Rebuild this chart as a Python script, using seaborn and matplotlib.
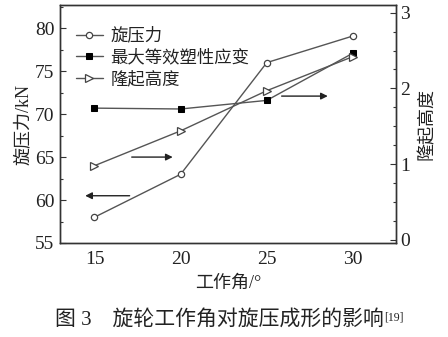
import matplotlib
matplotlib.use("Agg")
import matplotlib.pyplot as plt
import seaborn as sns
import pandas as pd
from matplotlib.ticker import MultipleLocator

sns.set_theme(style="white")
plt.rcParams['font.family'] = ['Liberation Serif', 'Noto Sans CJK SC', 'DejaVu Sans']
plt.rcParams['axes.unicode_minus'] = False

angles = [15, 20, 25, 30]
force = [58.0, 63.0, 76.0, 79.1]
strain = [70.7, 70.6, 71.6, 77.1]
bulge = [0.98, 1.44, 1.97, 2.42]

labels = ["旋压力", "最大等效塑性应变", "隆起高度"]

df = pd.DataFrame({"angle": angles, "force": force, "strain": strain, "bulge": bulge})

fig = plt.figure(figsize=(4.48, 3.37), dpi=100)
ax = fig.add_axes([0.134, 0.279, 0.750, 0.706])
ax2 = ax.twinx()

lc = "#555555"
sns.lineplot(data=df, x="angle", y="force", ax=ax, color=lc, lw=1.0, marker="o",
             markersize=4.5, markerfacecolor="white", markeredgecolor="#444444",
             markeredgewidth=0.9, label=labels[0], legend=False)
sns.lineplot(data=df, x="angle", y="strain", ax=ax, color=lc, lw=1.0, marker="s",
             markersize=4.5, markerfacecolor="black", markeredgecolor="black",
             label=labels[1], legend=False)
sns.lineplot(data=df, x="angle", y="bulge", ax=ax2, color=lc, lw=1.0, marker=">",
             markersize=5.5, markerfacecolor="white", markeredgecolor="#444444",
             markeredgewidth=0.9, label=labels[2], legend=False)

ax.set_xlim(13.0, 32.5)
ax.set_ylim(55, 82.7)
ax2.set_ylim(-0.04, 3.1)

ax.set_xticks(angles)
ax.xaxis.set_minor_locator(MultipleLocator(2.5))
ax.set_yticks([55, 60, 65, 70, 75, 80])
ax.yaxis.set_minor_locator(MultipleLocator(2.5))
ax2.set_yticks([0, 1, 2, 3])
ax2.yaxis.set_minor_locator(MultipleLocator(0.25))

tc = "#222222"
for a in (ax, ax2):
    a.tick_params(which="major", direction="in", length=4, width=0.8, colors="#333333",
                  labelcolor=tc, labelsize=14)
    a.tick_params(which="minor", direction="in", length=2.5, width=0.8, colors="#333333")
    for s in a.spines.values():
        s.set_color("#333333")
        s.set_linewidth(1.0)
ax.tick_params(axis="x", pad=6)
ax2.tick_params(axis="y", pad=3)
ax.tick_params(axis="y", pad=4)

ax.set_xlabel("工作角/°", fontsize=13, color=tc, labelpad=5)
ax.set_ylabel("旋压力/kN", fontsize=13, color=tc, labelpad=2)
ax2.set_ylabel("隆起高度", fontsize=13, color=tc, labelpad=6)

# arrows
arrowprops = dict(arrowstyle="-|>", color="#222222", lw=1.0, mutation_scale=10)
ax.annotate("", xy=(19.7, 65.0), xytext=(17.0, 65.0), arrowprops=arrowprops)
ax.annotate("", xy=(14.3, 60.5), xytext=(17.2, 60.5), arrowprops=arrowprops)
ax.annotate("", xy=(28.7, 72.1), xytext=(25.7, 72.1), arrowprops=arrowprops)

h1, l1 = ax.get_legend_handles_labels()
h2, l2 = ax2.get_legend_handles_labels()
leg = ax.legend(h1 + h2, l1 + l2, loc="upper left", frameon=False, fontsize=12.5,
                handlelength=1.6, handletextpad=0.4, labelspacing=0.3,
                borderaxespad=0.3, bbox_to_anchor=(0.01, 0.955))
for t in leg.get_texts():
    t.set_color(tc)

cap = fig.text(0.49, 0.05, "图 3　旋轮工作角对旋压成形的影响", ha="center", va="center",
               fontsize=15, color=tc)
fig.canvas.draw()
bb = cap.get_window_extent(renderer=fig.canvas.get_renderer())
fig.text(bb.x1 / fig.bbox.width, bb.y1 / fig.bbox.height - 0.004, "[19]",
         ha="left", va="top", fontsize=8.5, color=tc)

fig.savefig("out.png", dpi=100)
